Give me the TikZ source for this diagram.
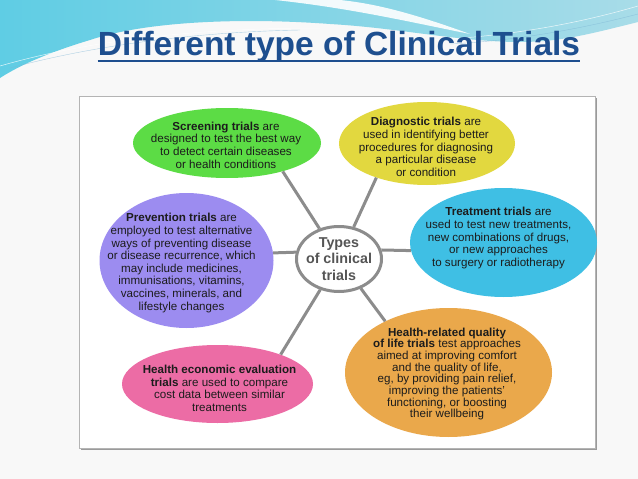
\documentclass[tikz,border=0pt]{standalone}
\usepackage{fontspec}
\setmainfont{Liberation Sans}
\usetikzlibrary{shapes.geometric}
\definecolor{bgc}{HTML}{F8F8F8}
\definecolor{wl}{HTML}{5FCDE4}
\definecolor{wm}{HTML}{7DB5D5}
\definecolor{wr}{HTML}{A8DCE8}
\definecolor{titlec}{HTML}{1E4F8F}
\definecolor{framec}{HTML}{B4B4B4}
\definecolor{shadowc}{HTML}{9A9A9A}
\definecolor{cgreen}{HTML}{5CDC45}
\definecolor{cyellow}{HTML}{E2D83F}
\definecolor{ccyan}{HTML}{3FBFE4}
\definecolor{cpurple}{HTML}{9C8CF0}
\definecolor{cpink}{HTML}{EC6CA5}
\definecolor{corange}{HTML}{EAA84B}
\definecolor{linec}{HTML}{8C8C8C}
\definecolor{txtc}{HTML}{1C1C1C}
\definecolor{centc}{HTML}{555555}
\begin{document}
\begin{tikzpicture}[x=1pt,y=-1pt,
  bub/.style={ellipse, inner sep=0pt, draw=none},
  txt/.style={align=center, inner sep=0pt, text=txtc, font=\fontsize{11.6}{12.6}\selectfont},
  conn/.style={draw=linec, line width=3pt}]
\useasboundingbox (0,0) rectangle (638,479);
\fill[bgc] (0,0) rectangle (638,479);
% top wave
\shade[left color=wl, middle color=wm, right color=wr]
  (0,0) -- (638,0) -- (638,22) .. controls (590,34) and (560,42) .. (520,42)
  .. controls (460,42) and (400,28) .. (330,24)
  .. controls (250,18) and (150,20) .. (90,40)
  .. controls (50,52) and (20,65) .. (0,78) -- cycle;
\fill[white, opacity=0.9] (275,0) .. controls (350,8) and (410,22) .. (470,34)
  .. controls (420,16) and (380,4) .. (340,0) -- cycle;
\draw[white, line width=0.5pt, opacity=0.8] (0,66) .. controls (90,40) and (200,28) .. (320,28);
\draw[wm, line width=0.4pt, opacity=0.6] (10,68) .. controls (100,44) and (200,32) .. (300,30);
\draw[white, line width=0.5pt, opacity=0.8] (430,40) .. controls (520,36) and (590,20) .. (638,6);
\draw[wm, line width=0.4pt, opacity=0.6] (450,44) .. controls (530,40) and (600,24) .. (638,14);
% title
\node[inner sep=0pt, anchor=base, text=titlec, font=\fontsize{33.5}{40}\selectfont\bfseries] (title) at (339,56) {Different type of Clinical Trials};
\draw[titlec, line width=2.5pt] ([yshift=-4.8pt]title.base west) -- ([yshift=-4.8pt]title.base east);
% frame
\fill[shadowc] (81,98) rectangle (597,450);
\draw[fill=white, draw=framec, line width=0.8pt] (79,96) rectangle (595,448);
% bubbles
\node[bub, fill=cgreen, minimum width=188pt, minimum height=70pt] (scr) at (227,143) {};
\node[bub, fill=cyellow, minimum width=176pt, minimum height=83pt] (dia) at (427,143.5) {};
\node[bub, fill=ccyan, minimum width=187pt, minimum height=109pt] (tre) at (503.5,242.5) {};
\node[bub, fill=cpurple, minimum width=174pt, minimum height=135pt] (pre) at (186.5,260.5) {};
\node[bub, fill=cpink, minimum width=191pt, minimum height=78pt] (hec) at (217.5,384) {};
\node[bub, fill=corange, minimum width=207pt, minimum height=129pt] (hrq) at (448.5,372.5) {};
\node[ellipse, inner sep=0pt, draw=linec, line width=3pt, fill=white, minimum width=85pt, minimum height=65pt] (cen) at (339,259) {};
% connectors
\draw[conn] (cen) -- (scr.-27);
\draw[conn] (cen) -- (dia.-146);
\draw[conn] (cen.12) -- (tre.-175);
\draw[conn] (cen.171) -- (pre.5);
\draw[conn] (cen) -- (hec.25);
\draw[conn] (cen) -- (hrq.141);
% texts
\node[txt] (scrt) at (226,145) {\textbf{Screening trials} are\\designed to test the best way\\to detect certain diseases\\or health conditions};
\node[txt] (diat) at (426,147) {\textbf{Diagnostic trials} are\\used in identifying better\\procedures for diagnosing\\a particular disease\\or condition};
\node[txt] (tret) at (498.5,238) {\textbf{Treatment trials} are\\used to test new treatments,\\new combinations of drugs,\\or new approaches\\to surgery or radiotherapy};
\node[txt] (pret) at (181.5,263) {\textbf{Prevention trials} are\\employed to test alternative\\ways of preventing disease\\or disease recurrence, which\\may include medicines,\\immunisations, vitamins,\\vaccines, minerals, and\\lifestyle changes};
\node[txt] (hect) at (219.5,388.5) {\textbf{Health economic evaluation}\\\textbf{trials} are used to compare\\cost data between similar\\treatments};
\node[txt, font=\fontsize{11.6}{11.7}\selectfont] (hrqt) at (447,374) {\textbf{Health-related quality}\\\textbf{of life trials} test approaches\\aimed at improving comfort\\and the quality of life,\\eg, by providing pain relief,\\improving the patients'\\functioning, or boosting\\their wellbeing};
\node[align=center, inner sep=0pt, text=centc, font=\fontsize{14.3}{16.5}\selectfont\bfseries] (cent) at (339,259) {Types\\of clinical\\trials};
\end{tikzpicture}
\end{document}
